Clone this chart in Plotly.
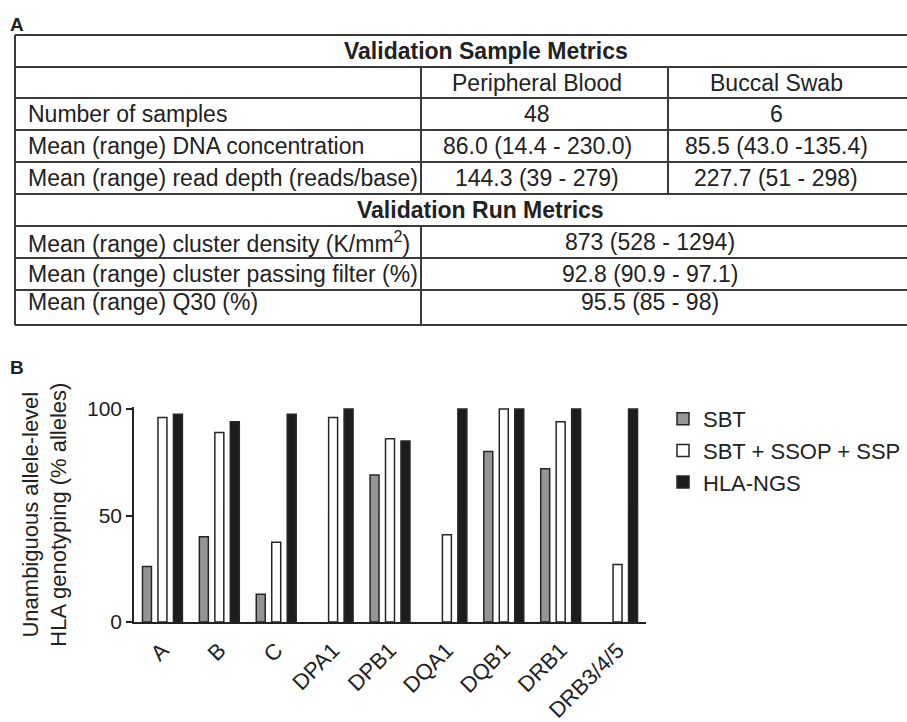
import plotly.graph_objects as go

# ---------------- data ----------------
categories = ["A", "B", "C", "DPA1", "DPB1", "DQA1", "DQB1", "DRB1", "DRB3/4/5"]
sbt = [26, 40, 13, None, 69, None, 80, 72, None]
sbt_ssop_ssp = [96, 89, 37.5, 96, 86, 41, 100, 94, 27]
hla_ngs = [97.5, 94, 97.5, 100, 85, 100, 100, 100, 100]
series_names = ["SBT", "SBT + SSOP + SSP", "HLA-NGS"]
y_ticks = [0, 50, 100]

sample_title = "Validation Sample Metrics"
sample_headers = ["Peripheral Blood", "Buccal Swab"]
sample_rows = ["Number of samples",
               "Mean (range) DNA concentration",
               "Mean (range) read depth (reads/base)"]
peripheral_blood = ["48", "86.0 (14.4 - 230.0)", "144.3 (39 - 279)"]
buccal_swab = ["6", "85.5 (43.0 -135.4)", "227.7 (51 - 298)"]
run_title = "Validation Run Metrics"
run_rows = ["Mean (range) cluster density (K/mm<sup>2</sup>)",
            "Mean (range) cluster passing filter (%)",
            "Mean (range) Q30 (%)"]
run_values = ["873 (528 - 1294)", "92.8 (90.9 - 97.1)", "95.5 (85 - 98)"]

# ---------------- style / layout constants ----------------
W, H = 907, 722
FONT = "Liberation Sans, Arial, Helvetica, sans-serif"
INK = "#222222"
bar_colors = ["#959595", "#ffffff", "#1c1c1c"]
TABLE_FS = 23

# table geometry (pixel scale of the hidden overlay axes)
t_left, t_right = 15, 915
col_x = [421, 668]
row_lines = [35, 67, 98, 130, 162, 194, 226, 258, 290, 325]
text_left = 26
col_centers = [537, 776]
run_center = 650
title_centers = [486, 480]
sample_row_y = [114, 146, 178]
run_row_y = [242, 274, 302]

fig = go.Figure()
for name, vals, col in zip(series_names, [sbt, sbt_ssop_ssp, hla_ngs], bar_colors):
    fig.add_trace(go.Bar(
        x=categories, y=vals, name=name,
        marker=dict(color=col, line=dict(color="#262626", width=1.5)),
        xaxis="x", yaxis="y",
    ))

# invisible point to instantiate the pixel overlay axes used by the table
fig.add_trace(go.Scatter(x=[0], y=[0], xaxis="x2", yaxis="y2", showlegend=False,
                         mode="markers", marker=dict(opacity=0), hoverinfo="skip"))

shapes = []
line_style = dict(color="#3a3a3a", width=2)
for y in row_lines:
    shapes.append(dict(type="line", xref="x2", yref="y2", x0=t_left, x1=t_right,
                       y0=y, y1=y, line=line_style))
shapes.append(dict(type="line", xref="x2", yref="y2", x0=t_left, x1=t_left,
                   y0=row_lines[0], y1=row_lines[-1], line=line_style))
# column separators
shapes.append(dict(type="line", xref="x2", yref="y2", x0=col_x[0], x1=col_x[0],
                   y0=row_lines[1], y1=row_lines[5], line=line_style))
shapes.append(dict(type="line", xref="x2", yref="y2", x0=col_x[0], x1=col_x[0],
                   y0=row_lines[6], y1=row_lines[9], line=line_style))
shapes.append(dict(type="line", xref="x2", yref="y2", x0=col_x[1], x1=col_x[1],
                   y0=row_lines[1], y1=row_lines[5], line=line_style))

ann = []
def txt(x, y, s, anchor="center", size=TABLE_FS, bold=False):
    ann.append(dict(xref="x2", yref="y2", x=x, y=y, text=(f"<b>{s}</b>" if bold else s),
                    showarrow=False, xanchor=anchor, yanchor="middle",
                    font=dict(family=FONT, size=size, color=INK)))

txt(8, 24, "A", anchor="left", size=19, bold=True)
txt(8, 367, "B", anchor="left", size=19, bold=True)
txt(title_centers[0], (row_lines[0] + row_lines[1]) / 2, sample_title, bold=True)
for cx, h in zip(col_centers, sample_headers):
    txt(cx, (row_lines[1] + row_lines[2]) / 2, h)
for y, r, pb, bs in zip(sample_row_y, sample_rows, peripheral_blood, buccal_swab):
    txt(text_left, y, r, anchor="left")
    txt(col_centers[0], y, pb)
    txt(col_centers[1], y, bs)
txt(title_centers[1], (row_lines[5] + row_lines[6]) / 2, run_title, bold=True)
for y, r, v in zip(run_row_y, run_rows, run_values):
    txt(text_left, y, r, anchor="left")
    txt(run_center, y, v)

fig.update_layout(
    width=W, height=H,
    margin=dict(l=0, r=0, t=0, b=0, autoexpand=False),
    paper_bgcolor="white", plot_bgcolor="rgba(0,0,0,0)",
    font=dict(family=FONT, size=21, color=INK),
    barmode="group", bargap=0.184, bargroupgap=0.42,
    showlegend=True,
    xaxis=dict(domain=[134 / W, 646 / W], range=[-0.5, 8.5], anchor="y",
               automargin=False,
               showline=True, linecolor=INK, linewidth=1.5, ticks="",
               tickangle=-45, tickfont=dict(size=22), ticklabelstandoff=5,
               showgrid=False, zeroline=False),
    yaxis=dict(domain=[1 - 622 / H, 1 - 407.3 / H], range=[0, 100.8], anchor="x",
               automargin=False,
               tickvals=y_ticks, ticks="outside", ticklen=6, tickwidth=1.5,
               tickcolor=INK, showline=True, linewidth=1.5, linecolor=INK,
               showgrid=False, zeroline=False, tickfont=dict(size=21),
               title=dict(text="Unambiguous allele-level<br>HLA genotyping (% alleles)",
                          font=dict(size=22), standoff=14)),
    xaxis2=dict(domain=[0, 1], range=[0, W], visible=False, anchor="y2",
                automargin=False, fixedrange=True),
    yaxis2=dict(domain=[0, 1], range=[H, 0], visible=False, anchor="x2",
                automargin=False, fixedrange=True),
    legend=dict(x=663 / W, y=1 - 398 / H, xanchor="left", yanchor="top",
                font=dict(size=22), bgcolor="rgba(0,0,0,0)", itemwidth=30),
    shapes=shapes,
    annotations=ann,
)

fig.write_html(
    "out.html",
    config={"displayModeBar": False},
    post_script="document.body.style.margin='0';document.body.style.overflow='hidden';",
)
